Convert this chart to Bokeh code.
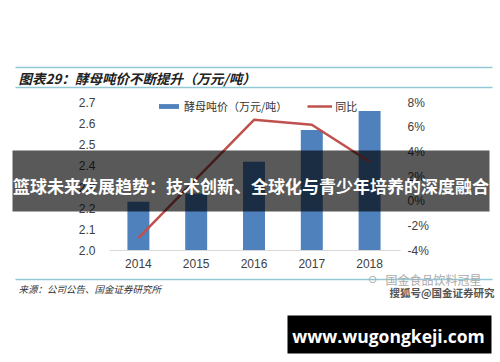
from bokeh.plotting import figure
from bokeh.models import (Range1d, LinearAxis, FixedTicker, NumeralTickFormatter,
                          PrintfTickFormatter, Label, BoxAnnotation, Legend, LegendItem,
                          ColumnDataSource)
from bokeh.embed import file_html
from bokeh.resources import INLINE

# ---- data ----
years = ["2014", "2015", "2016", "2017", "2018"]
price = [2.23, 2.27, 2.42, 2.57, 2.66]          # 万元/吨
yoy = [-3.0, 1.8, 6.6, 6.2, 3.2]                # %
left_ticks = [2.0, 2.1, 2.2, 2.3, 2.4, 2.5, 2.6, 2.7]
right_ticks = [-4, -2, 0, 2, 4, 6, 8]

title_text = "图表29：酵母吨价不断提升（万元/吨）"
source_text = "来源：公司公告、国金证券研究所"
banner_text = "篮球未来发展趋势：技术创新、全球化与青少年培养的深度融合"
site_text = "www.wugongkeji.com"
wm1 = "国金食品饮料冠星"
wm2 = "搜狐号@国金证券研究"
leg1 = "酵母吨价（万元/吨）"
leg2 = "同比"

CJK = "Noto Sans CJK SC"
xs = list(range(len(years)))

W, H = 500, 362
# plot-area geometry (pixels): categories span 109..398, value axes span y 250 (min) .. 102 (max)
PX_L, PX_R, PY_B, PY_T = 109, 398, 250, 102
n = len(years)

def X(px):
    return (px - PX_L) / (PX_R - PX_L) * n - 0.5

def Y(py):
    return left_ticks[0] + (PY_B - py) / (PY_B - PY_T) * (left_ticks[-1] - left_ticks[0])

def P(py):
    return right_ticks[0] + (PY_B - py) / (PY_B - PY_T) * (right_ticks[-1] - right_ticks[0])

p = figure(width=W, height=H, output_backend="svg", toolbar_location=None,
           x_range=Range1d(X(0), X(W)), y_range=Range1d(Y(H), Y(0)),
           min_border=0, outline_line_color=None,
           background_fill_color="white", border_fill_color="white")
p.extra_y_ranges = {"pct": Range1d(P(H), P(0))}
p.xgrid.visible = False
p.ygrid.visible = False

src = ColumnDataSource(dict(x=xs, price=price, yoy=yoy))
bars = p.vbar(x="x", top="price", bottom=left_ticks[0], width=0.38, source=src,
              fill_color="#4f81bd", line_color=None)
line = p.line(x="x", y="yoy", source=src, y_range_name="pct",
              line_color="#c0504d", line_width=2.5)

def style_axis(ax):
    ax.axis_line_color = None
    ax.major_tick_line_color = None
    ax.minor_tick_line_color = None
    ax.major_tick_out = 0
    ax.major_tick_in = 0
    ax.major_label_text_font = "Liberation Sans"
    ax.major_label_text_font_size = "12px"
    ax.major_label_text_color = "#404040"

yl = p.yaxis[0]
style_axis(yl)
yl.ticker = FixedTicker(ticks=left_ticks)
yl.formatter = NumeralTickFormatter(format="0.0")
yl.fixed_location = -0.5
yl.major_label_standoff = 14

yr = LinearAxis(y_range_name="pct", ticker=FixedTicker(ticks=right_ticks),
                formatter=PrintfTickFormatter(format="%d%%"))
style_axis(yr)
yr.fixed_location = n - 0.5
yr.major_label_standoff = 9
p.add_layout(yr, "right")

xa = p.xaxis[0]
style_axis(xa)
xa.axis_line_color = "#d9d9d9"
xa.ticker = FixedTicker(ticks=xs)
xa.major_label_overrides = {i: y for i, y in enumerate(years)}
xa.fixed_location = left_ticks[0]
xa.bounds = (-0.5, n - 0.5 + 0.03)
xa.major_label_standoff = 8

legend = Legend(items=[LegendItem(label=leg1, renderers=[bars]),
                       LegendItem(label=leg2, renderers=[line])],
                orientation="horizontal", location=(156, 248),
                glyph_width=25, glyph_height=6, label_height=6,
                label_standoff=3, spacing=20, padding=0, margin=0,
                border_line_color=None, background_fill_alpha=0,
                label_text_font=CJK, label_text_font_size="11px",
                label_text_color="#333333")
p.add_layout(legend)

def hline(py, x0=15, x1=492, color="#93c9d5"):
    p.add_layout(BoxAnnotation(left=X(x0), right=X(x1), top=Y(py - 0.75), bottom=Y(py + 0.75),
                               fill_color=color, fill_alpha=1, line_color=None))

hline(67)
hline(87)
hline(279)

p.add_layout(Label(x=X(18), y=Y(77), text=title_text, text_font=CJK, text_font_size="13.5px",
                   text_font_style="bold italic", text_color="#222222",
                   text_align="left", text_baseline="middle"))
p.add_layout(Label(x=X(18), y=Y(288), text=source_text, text_font=CJK, text_font_size="9.5px",
                   text_font_style="italic", text_color="#333333",
                   text_align="left", text_baseline="middle"))
p.add_layout(Label(x=X(372), y=Y(279), text="⊙", text_font="DejaVu Sans", text_font_size="11px",
                   text_color="#aaaaaa", text_align="center", text_baseline="middle"))
p.add_layout(Label(x=X(385), y=Y(279), text=wm1, text_font=CJK, text_font_size="12px",
                   text_color="#aaaaaa", text_align="left", text_baseline="middle"))
p.add_layout(Label(x=X(389), y=Y(292), text=wm2, text_font=CJK, text_font_size="10.5px",
                   text_font_style="bold", text_color="#555555",
                   text_align="left", text_baseline="middle"))

# banner overlay
p.add_layout(BoxAnnotation(left=X(12), right=X(489), top=Y(150), bottom=Y(211),
                           fill_color="black", fill_alpha=0.65, line_color=None))
p.add_layout(Label(x=X(250.5), y=Y(185), text=banner_text, text_font=CJK, text_font_size="17px",
                   text_font_style="bold", text_color="white",
                   text_align="center", text_baseline="middle"))

# site box
p.add_layout(BoxAnnotation(left=X(287), right=X(491), top=Y(315), bottom=Y(353),
                           fill_color="black", fill_alpha=1, line_color=None))
p.add_layout(Label(x=X(388), y=Y(335), text=site_text, text_font="Open Sans", text_font_size="17.5px",
                   text_font_style="bold", text_color="white",
                   text_align="center", text_baseline="middle"))

open("out.html", "w").write(file_html(p, INLINE))
